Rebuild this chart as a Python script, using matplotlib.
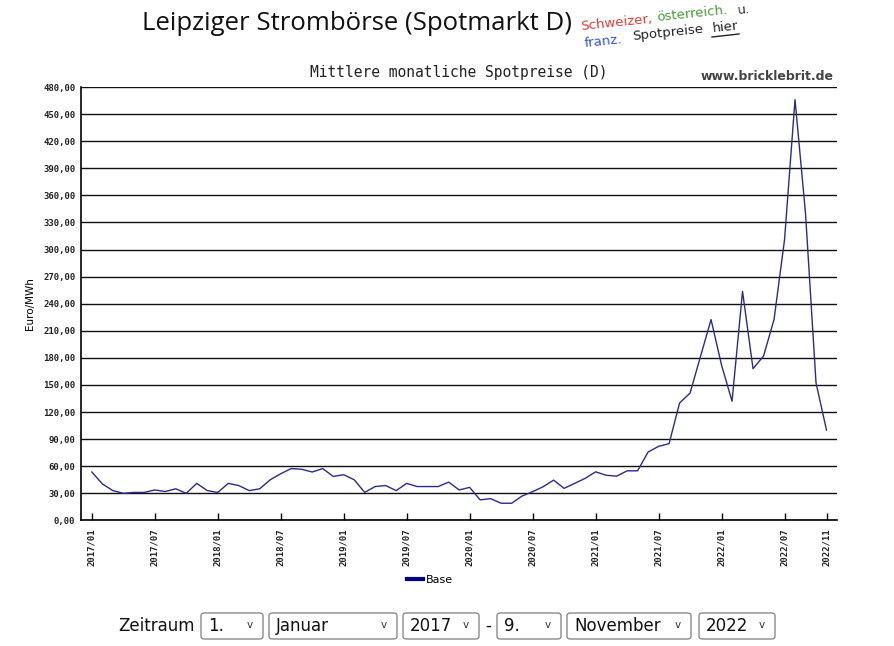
"""Leipziger Strombörse – mittlere monatliche Spotpreise (D), 2017/01 – 2022/11."""

import matplotlib.pyplot as plt
from matplotlib.patches import FancyBboxPatch
from matplotlib.lines import Line2D

# --- data ---------------------------------------------------------------
years = [2017, 2018, 2019, 2020, 2021, 2022]
base_prices = [
    53.6, 40.5, 33.0, 30.0, 31.0, 31.0, 33.7, 32.0, 35.0, 30.0, 41.0, 33.0,   # 2017
    31.0, 41.0, 38.6, 33.0, 35.0, 45.0, 51.7, 57.4, 56.6, 53.6, 57.4, 48.7,   # 2018
    50.6, 45.0, 31.0, 37.5, 38.6, 33.0, 41.0, 37.5, 37.5, 37.5, 42.4, 33.7,   # 2019
    36.6, 22.7, 24.1, 19.0, 19.0, 27.0, 31.8, 37.3, 44.6, 35.5, 41.0, 46.5,   # 2020
    53.8, 50.0, 49.0, 54.9, 54.9, 75.7, 82.0, 85.0, 130.0, 141.0, 181.8, 222.4,  # 2021
    172.0, 132.0, 253.6, 168.0, 182.0, 222.4, 310.7, 466.0, 340.0, 152.4, 100.0,  # 2022
]
month_labels = [f"{y}/{m:02d}" for y in years for m in range(1, 13)][:len(base_prices)]
tick_months = [0, 6, 12, 18, 24, 30, 36, 42, 48, 54, 60, 66, 70]
y_ticks = list(range(0, 481, 30))

series_name = "Base"
form_fields = ["1.", "Januar", "2017", "9.", "November", "2022"]
# ------------------------------------------------------------------------

W, H = 894, 646
MONO = "DejaVu Sans Mono"


def px(x, y):
    """pixel position (from top-left) -> figure fraction"""
    return x / W, 1 - y / H


fig = plt.figure(figsize=(W / 100, H / 100), dpi=100)
ax = fig.add_axes([81 / W, 1 - 520.4 / H, (837 - 81) / W, (520.4 - 87) / H])

x = list(range(len(base_prices)))
line, = ax.plot(x, base_prices, color="#2b2b8c", lw=1.0, label=series_name)

ax.set_xlim(-1.03, 71.0)
ax.set_ylim(0, 480)
ax.set_yticks(y_ticks)
ax.set_yticklabels([f"{v},00" for v in y_ticks], fontfamily=MONO,
                   fontsize=6.5, fontweight="bold", color="#222222")
ax.set_xticks(tick_months)
ax.set_xticklabels([month_labels[i] for i in tick_months], rotation=90,
                   fontfamily=MONO, fontsize=6.5, fontweight="bold",
                   color="#222222", va="top")
ax.tick_params(axis="y", length=0, pad=4)
ax.tick_params(axis="x", direction="in", length=5, width=1, pad=6)
ax.grid(axis="y", color="#111111", lw=1.0)
ax.set_axisbelow(True)
for side in ("top", "right"):
    ax.spines[side].set_visible(False)
for side in ("left", "bottom"):
    ax.spines[side].set_linewidth(1.2)

ax.set_ylabel("Euro/MWh", fontsize=7.5, labelpad=4)
ax.yaxis.set_label_coords(-0.061, 0.5)

# chart caption and site tag
fig.text(*px(459, 73), "Mittlere monatliche Spotpreise (D)", family=MONO,
         fontsize=10.5, ha="center", va="center", color="#222222")
fig.text(*px(834, 76), "www.bricklebrit.de", fontsize=9, fontweight="bold",
         ha="right", va="center", color="#444444")

# page title
fig.text(*px(357, 24), "Leipziger Strombörse (Spotmarkt D)", family="Open Sans",
         fontsize=18.5, ha="center", va="center", color="#111111")

# hand-written style link
hand = [("Schweizer,", 616, 23, "#e03a3a"), ("österreich.", 692, 14, "#4a9a3a"),
        ("u.", 744, 10, "#333333"), ("franz.", 603, 42, "#3355dd"),
        ("Spotpreise", 668, 33, "#222222"), ("hier", 725, 27, "#222222")]
for txt, hx, hy, col in hand:
    fig.text(*px(hx, hy), txt, fontsize=9.5, rotation=6, ha="center",
             va="center", color=col, rotation_mode="anchor")
fig.add_artist(Line2D([712 / W, 739 / W], [1 - 37 / H, 1 - 34 / H],
                      color="#222222", lw=1.0))

# legend below the chart
fig.legend(handles=[line], loc="center", bbox_to_anchor=px(430, 580),
           frameon=False, fontsize=8, handlelength=1.4, handletextpad=0.3)
fig.legends[0].legend_handles[0].set_linewidth(3)
fig.legends[0].legend_handles[0].set_color("#000080")

# period selector row
fig.text(*px(118, 626), "Zeitraum", fontsize=12, ha="left", va="center",
         color="#111111")
boxes = [(201, 263), (269, 397), (403, 479), (497, 561), (567, 691), (699, 775)]
for (x0, x1), label in zip(boxes, form_fields):
    bx, by = px(x0, 639)
    bw, bh = (x1 - x0) / W, 26 / H
    fig.add_artist(FancyBboxPatch((bx, by), bw, bh,
                                  boxstyle="round,pad=0,rounding_size=0.004",
                                  transform=fig.transFigure, fc="white",
                                  ec="#8a8a8a", lw=1.0))
    fig.text(*px(x0 + 7, 626), label, fontsize=12, ha="left", va="center",
             color="#111111")
    fig.text(*px(x1 - 13, 625), "v", fontsize=7.5, ha="center", va="center",
             color="#333333")
fig.text(*px(488, 626), "-", fontsize=12, ha="center", va="center",
         color="#111111")

fig.savefig("out.png", dpi=100)
